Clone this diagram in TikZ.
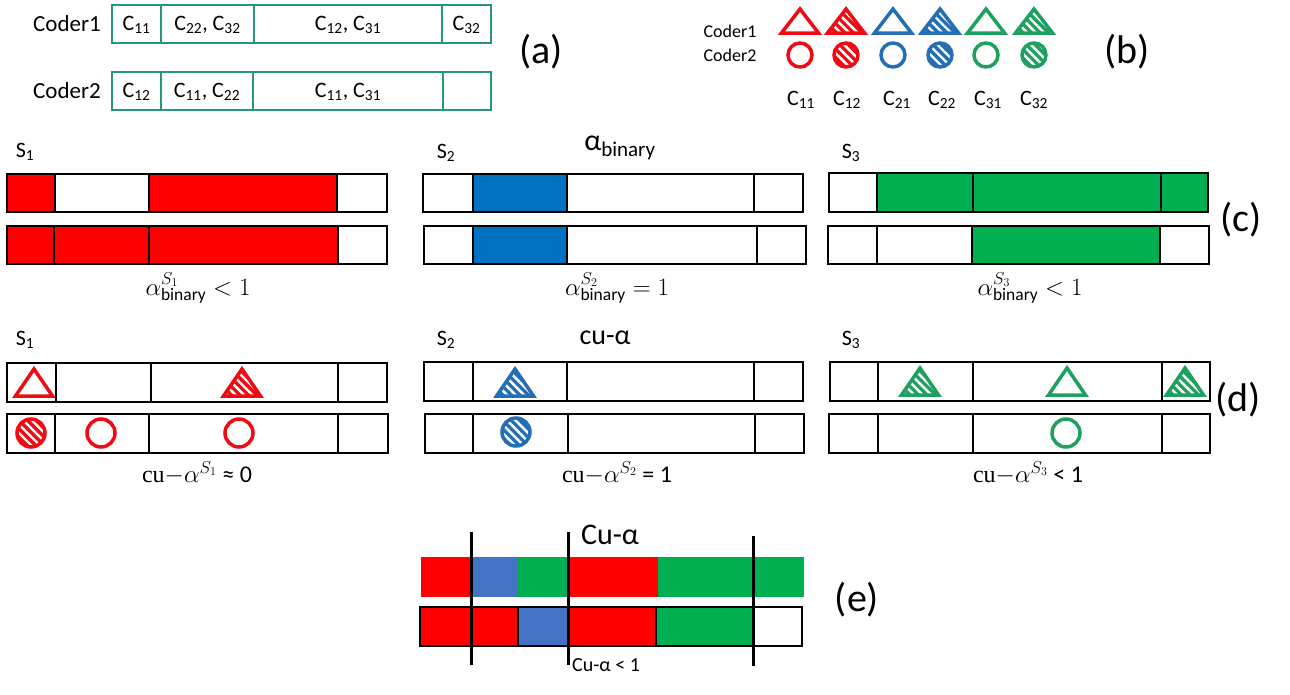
\documentclass[tikz,border=0pt]{standalone}
\usepackage{fontspec}
\setmainfont{Carlito}
\newfontfamily\serifcu{Liberation Serif}
\usetikzlibrary{patterns.meta}
\definecolor{barred}{RGB}{255,0,0}
\definecolor{barblue}{RGB}{0,112,192}
\definecolor{bargreen}{RGB}{0,176,80}
\definecolor{eblue}{RGB}{68,114,196}
\definecolor{symred}{RGB}{240,10,20}
\definecolor{symblue}{RGB}{35,110,180}
\definecolor{symgreen}{RGB}{30,160,95}
\definecolor{tealbox}{RGB}{40,150,125}
\newcommand\fs[1]{\fontsize{#1}{#1}\selectfont}
\tikzset{
  txt/.style={inner sep=0pt, font=\fs{22}},
  mlbl/.style={inner sep=0pt, font=\fs{25}},
  bigtag/.style={inner sep=0pt, font=\fs{40}},
  cellline/.style={draw=black, line width=1.2pt},
  acell/.style={draw=tealbox, line width=1.3pt},
  symline/.style={line width=3.5pt, line join=miter},
  hatch/.style={pattern={Lines[angle=-45,distance=6pt,line width=2.4pt]}, pattern color=white},
  vline/.style={line width=3pt, black}
}
% cell: x1 x2 y1 y2 fill
\newcommand\cellbox[5]{\path[cellline, fill=#5] (#1,#3) rectangle (#2,#4);}
\newcommand\acellbox[4]{\path[acell] (#1,#3) rectangle (#2,#4);}
\newcommand\ecell[5]{\path[fill=#5] (#1,#3) rectangle (#2,#4);}
% triangles: cx top bottom color
\newcommand\opentri[4]{\draw[symline, draw=#4, fill=white] (#1-18.5,#3) -- (#1+18.5,#3) -- (#1,#2) -- cycle;}
\newcommand\hattri[4]{\draw[symline, draw=#4, preaction={fill=#4}, hatch] (#1-18.5,#3) -- (#1+18.5,#3) -- (#1,#2) -- cycle;}
% circles: cx cy r color
\newcommand\opencirc[4]{\draw[symline, draw=#4, fill=white] (#1,#2) circle (#3);}
\newcommand\hatcirc[4]{\draw[symline, draw=#4, preaction={fill=#4}, hatch] (#1,#2) circle (#3);}
\begin{document}
\begin{tikzpicture}[x=1pt,y=-1pt]
\useasboundingbox (0,0) rectangle (1290,694);
\fill[white] (0,0) rectangle (1290,694);

% ---------------- (a)
\node[txt, font=\fs{23}] (c1a) at (67,24) {Coder1};
\node[txt, font=\fs{23}] (c2a) at (67,91) {Coder2};
\acellbox{112}{161}{5}{43}
\acellbox{161}{254}{5}{43}
\acellbox{254}{442}{5}{43}
\acellbox{442}{491}{5}{43}
\acellbox{112}{161}{72}{110}
\acellbox{161}{253}{72}{110}
\acellbox{253}{443}{72}{110}
\acellbox{443}{491}{72}{110}
\node[txt] (a11) at (136.5,25) {C\textsubscript{11}};
\node[txt] (a12) at (207.5,25) {C\textsubscript{22}, C\textsubscript{32}};
\node[txt] (a13) at (348,25) {C\textsubscript{12}, C\textsubscript{31}};
\node[txt] (a14) at (466.5,25) {C\textsubscript{32}};
\node[txt] (a21) at (136.5,92) {C\textsubscript{12}};
\node[txt] (a22) at (207,92) {C\textsubscript{11}, C\textsubscript{22}};
\node[txt] (a23) at (348,92) {C\textsubscript{11}, C\textsubscript{31}};
\node[bigtag] (taga) at (541,52) {(a)};

% ---------------- (b)
\node[txt, font=\fs{18}] (c1b) at (730,31) {Coder1};
\node[txt, font=\fs{18}] (c2b) at (730,55) {Coder2};
\opentri{800}{9}{33}{symred}
\hattri{846}{9}{33}{symred}
\opentri{893}{9}{33}{symblue}
\hattri{940}{9}{33}{symblue}
\opentri{986}{9}{33}{symgreen}
\hattri{1034}{9}{33}{symgreen}
\opencirc{800}{55}{12}{symred}
\hatcirc{846}{55}{12}{symred}
\opencirc{893}{55}{12}{symblue}
\hatcirc{940}{55}{12}{symblue}
\opencirc{986}{55}{12}{symgreen}
\hatcirc{1034}{55}{12}{symgreen}
\node[txt] (b11) at (801,100) {C\textsubscript{11}};
\node[txt] (b12) at (847,100) {C\textsubscript{12}};
\node[txt] (b21) at (897,100) {C\textsubscript{21}};
\node[txt] (b22) at (942,100) {C\textsubscript{22}};
\node[txt] (b31) at (988,100) {C\textsubscript{31}};
\node[txt] (b32) at (1034,100) {C\textsubscript{32}};
\node[bigtag] (tagb) at (1127,52) {(b)};

% ---------------- (c)
\node[txt] (cs1) at (25,152) {S\textsubscript{1}};
\node[txt] (cs2) at (446,153) {S\textsubscript{2}};
\node[txt] (cs3) at (851,153) {S\textsubscript{3}};
\node[txt, font=\fs{30}] (chead) at (620,148) {α\textsubscript{binary}};
\cellbox{7}{55}{174}{212}{barred}
\cellbox{55}{149}{174}{212}{white}
\cellbox{149}{337}{174}{212}{barred}
\cellbox{337}{387}{174}{212}{white}
\cellbox{7}{54}{226}{264}{barred}
\cellbox{54}{149}{226}{264}{barred}
\cellbox{149}{338}{226}{264}{barred}
\cellbox{338}{387}{226}{264}{white}
\cellbox{423}{473}{174}{212}{white}
\cellbox{473}{567}{174}{212}{barblue}
\cellbox{567}{754}{174}{212}{white}
\cellbox{754}{803}{174}{212}{white}
\cellbox{424}{473}{226}{264}{white}
\cellbox{473}{567}{226}{264}{barblue}
\cellbox{567}{757}{226}{264}{white}
\cellbox{757}{806}{226}{264}{white}
\cellbox{829}{877}{173}{212}{white}
\cellbox{877}{973}{173}{212}{bargreen}
\cellbox{973}{1161}{173}{212}{bargreen}
\cellbox{1161}{1208}{173}{212}{bargreen}
\cellbox{828}{877}{226}{264}{white}
\cellbox{877}{972}{226}{264}{white}
\cellbox{972}{1160}{226}{264}{bargreen}
\cellbox{1160}{1209}{226}{264}{white}
\node[mlbl] (cl1) at (198,288) {$\alpha^{S_1}_{\mathrm{binary}} < 1$};
\node[mlbl] (cl2) at (617,288) {$\alpha^{S_2}_{\mathrm{binary}} = 1$};
\node[mlbl] (cl3) at (1030,288) {$\alpha^{S_3}_{\mathrm{binary}} < 1$};
\node[bigtag] (tagc) at (1241,220) {(c)};

% ---------------- (d)
\node[txt] (ds1) at (25,340) {S\textsubscript{1}};
\node[txt] (ds2) at (446,340) {S\textsubscript{2}};
\node[txt] (ds3) at (851,340) {S\textsubscript{3}};
\node[txt, font=\fs{28}] (dhead) at (605,338) {cu-α};
\cellbox{7}{56}{363}{402}{white}
\cellbox{56}{151}{363}{402}{white}
\cellbox{151}{338}{363}{402}{white}
\cellbox{338}{387}{363}{402}{white}
\cellbox{7}{55}{414}{453}{white}
\cellbox{55}{149}{414}{453}{white}
\cellbox{149}{338}{414}{453}{white}
\cellbox{338}{388}{414}{453}{white}
\cellbox{424}{473}{362}{401}{white}
\cellbox{473}{567}{362}{401}{white}
\cellbox{567}{754}{362}{401}{white}
\cellbox{754}{803}{362}{401}{white}
\cellbox{425}{473}{414}{453}{white}
\cellbox{473}{568}{414}{453}{white}
\cellbox{568}{755}{414}{453}{white}
\cellbox{755}{804}{414}{453}{white}
\cellbox{830}{878}{362}{401}{white}
\cellbox{878}{973}{362}{401}{white}
\cellbox{973}{1162}{362}{401}{white}
\cellbox{1162}{1210}{362}{401}{white}
\cellbox{829}{878}{414}{453}{white}
\cellbox{878}{973}{414}{453}{white}
\cellbox{973}{1162}{414}{453}{white}
\cellbox{1162}{1210}{414}{453}{white}
\opentri{34}{369}{396}{symred}
\hattri{242}{369}{396}{symred}
\hatcirc{31}{433}{14}{symred}
\opencirc{101}{433}{14}{symred}
\opencirc{239}{433}{14}{symred}
\hattri{515}{369}{396}{symblue}
\hatcirc{516}{432}{14}{symblue}
\hattri{920}{368}{395}{symgreen}
\opentri{1067}{368}{395}{symgreen}
\hattri{1185}{368}{395}{symgreen}
\opencirc{1066}{433}{14}{symgreen}
\node[txt, font=\fs{24}] (dl1) at (197,473) {{\serifcu cu}$-\alpha^{S_1}$ ≈ 0};
\node[txt, font=\fs{24}] (dl2) at (617,473) {{\serifcu cu}$-\alpha^{S_2}$ = 1};
\node[txt, font=\fs{24}] (dl3) at (1028,473) {{\serifcu cu}$-\alpha^{S_3}$ < 1};
\node[bigtag] (tagd) at (1238,400) {(d)};

% ---------------- (e)
\ecell{421}{472}{557}{597}{barred}
\ecell{472}{517}{557}{597}{eblue}
\ecell{517}{568}{557}{597}{bargreen}
\ecell{568}{657}{557}{597}{barred}
\ecell{657}{804}{557}{597}{bargreen}
\path[draw=black!70, line width=0.8pt] (657,557) -- (657,597);
\cellbox{420}{518}{607}{646}{barred}
\cellbox{518}{568}{607}{646}{eblue}
\cellbox{568}{656}{607}{646}{barred}
\cellbox{656}{754}{607}{646}{bargreen}
\cellbox{754}{802}{607}{646}{white}
\coordinate (v1t) at (471,532); \coordinate (v1b) at (471,665);
\coordinate (v2t) at (568,532); \coordinate (v2b) at (568,665);
\coordinate (v3t) at (753,536); \coordinate (v3b) at (753,666);
\draw[vline] (v1t) -- (v1b);
\draw[vline] (v2t) -- (v2b);
\draw[vline] (v3t) -- (v3b);
\node[txt, font=\fs{30}] (ehead) at (610,535) {Cu-α};
\node[txt, font=\fs{20}, anchor=west] (elbl) at (572,665) {Cu-α < 1};
\node[bigtag] (tage) at (857,600) {(e)};
\end{tikzpicture}
\end{document}
